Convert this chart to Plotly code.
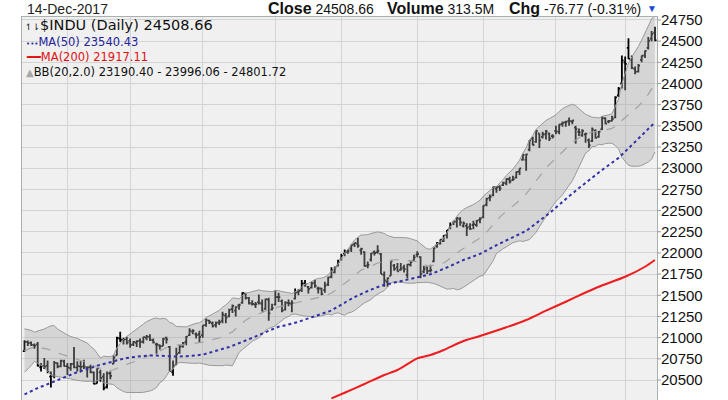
import pandas as pd
import plotly.graph_objects as go

# ---------------- calendar (NYSE trading days shown) ----------------
START, END = "2017-03-15", "2017-12-14"
HOLIDAYS = ["2017-04-14", "2017-05-29", "2017-07-04", "2017-09-04", "2017-11-23"]
dates = [d.strftime("%Y-%m-%d") for d in pd.bdate_range(START, END)
         if d.strftime("%Y-%m-%d") not in HOLIDAYS]

# ---------------- $INDU daily OHLC (Mar 15 - Dec 14, 2017) ----------------
opens = [
    20840, 20950, 20940, 20912, 20920, 20650, 20665, 20670, 20540, 20550, 20700, 20660, 20720,
    20665, 20640, 20690, 20650, 20660, 20660, 20650, 20650, 20590, 20460, 20590, 20540, 20420, 20580, 20690, 20790, 20990, 20970, 20980,
    20962, 20920, 20940, 20960, 20950, 21000, 21010, 20970, 20920, 20910, 20900, 21000, 20890, 20590, 20680, 20820, 20900, 20950, 21030, 21070, 21040, 21040,
    21030, 21150, 21200, 21170, 21150, 21180, 21200, 21260, 21250, 21340, 21320, 21380, 21410, 21520, 21470, 21400, 21390, 21420, 21400, 21340, 21450, 21330,
    21390, 21480, 21430, 21330, 21410, 21400, 21460, 21540, 21560, 21640, 21600, 21590, 21650, 21580, 21580, 21560, 21630, 21720, 21770, 21850,
    21920, 21990, 22010, 22050, 22100, 22110, 22030, 22010, 21850, 21920, 22010, 22010, 21990, 21740, 21660, 21730, 21850, 21830, 21800, 21830, 21740, 21860, 21910,
    21980, 21950, 21780, 21830, 21790, 21900, 22080, 22110, 22140, 22210, 22290, 22350, 22370, 22400, 22320, 22320, 22310, 22330, 22330, 22390,
    22420, 22570, 22650, 22680, 22760, 22780, 22800, 22820, 22870, 22860, 22890, 22960, 23100, 23100, 23220, 23350, 23310, 23410, 23370, 23400, 23410, 23380,
    23440, 23430, 23520, 23540, 23560, 23550, 23480, 23430, 23390, 23400, 23330, 23320, 23440, 23370, 23460, 23590, 23550, 23560, 23600, 23860, 24000,
    24250, 24420, 24280, 24170, 24140, 24280, 24330, 24420, 24530, 24600,
]
highs = [
    20970, 20965, 20955, 20930, 20950, 20700, 20760, 20730, 20600, 20725, 20710, 20740, 20740,
    20700, 20700, 20890, 20720, 20720, 20740, 20660, 20680, 20600, 20640, 20620, 20580, 20600, 20600, 20790, 21010, 21070, 21000, 21010,
    20990, 20960, 20970, 20990, 21010, 21030, 21040, 20990, 20940, 20920, 21000, 21010, 20900, 20730, 20880, 20920, 20950, 21020, 21110, 21100, 21060, 21080,
    21145, 21225, 21210, 21190, 21190, 21210, 21305, 21290, 21340, 21390, 21370, 21400, 21535, 21530, 21480, 21440, 21420, 21510, 21450, 21460, 21470, 21400,
    21560, 21530, 21450, 21430, 21450, 21440, 21580, 21570, 21680, 21680, 21610, 21660, 21680, 21600, 21590, 21660, 21720, 21830, 21840, 21920,
    21990, 22040, 22040, 22100, 22120, 22180, 22060, 22020, 21900, 22000, 22030, 22090, 22000, 21780, 21710, 21900, 21870, 21880, 21880, 21860, 21870, 21910, 21980,
    22020, 21960, 21850, 21840, 21860, 22060, 22130, 22160, 22210, 22270, 22360, 22380, 22420, 22420, 22370, 22350, 22350, 22380, 22390, 22420,
    22560, 22650, 22690, 22780, 22790, 22800, 22840, 22880, 22900, 22910, 22960, 23000, 23170, 23170, 23330, 23370, 23450, 23410, 23430, 23450, 23420, 23400,
    23500, 23520, 23550, 23560, 23600, 23570, 23500, 23470, 23460, 23420, 23350, 23480, 23460, 23440, 23610, 23600, 23570, 23620, 23850, 23960, 24330,
    24320, 24534, 24330, 24200, 24230, 24330, 24390, 24550, 24620, 24670,
]
lows = [
    20830, 20900, 20900, 20870, 20660, 20600, 20630, 20580, 20412, 20520, 20640, 20650, 20660,
    20560, 20610, 20640, 20600, 20590, 20630, 20530, 20580, 20450, 20460, 20480, 20380, 20400, 20510, 20690, 20790, 20950, 20920, 20920,
    20880, 20900, 20890, 20880, 20930, 20970, 20960, 20930, 20810, 20860, 20900, 20930, 20600, 20550, 20680, 20810, 20880, 20910, 21020, 21040, 20990, 20940,
    21000, 21130, 21160, 21120, 21120, 21150, 21170, 21170, 21240, 21290, 21250, 21330, 21400, 21450, 21390, 21380, 21350, 21390, 21310, 21330, 21200, 21320,
    21380, 21420, 21300, 21320, 21370, 21300, 21450, 21500, 21540, 21600, 21520, 21580, 21590, 21520, 21500, 21530, 21610, 21700, 21760, 21840,
    21910, 21960, 21990, 22010, 22070, 22060, 21980, 21840, 21820, 21900, 21970, 21990, 21750, 21600, 21600, 21730, 21790, 21780, 21790, 21770, 21700, 21840, 21900,
    21950, 21700, 21760, 21750, 21770, 21890, 22060, 22100, 22130, 22170, 22280, 22330, 22300, 22320, 22300, 22200, 22270, 22280, 22310, 22350,
    22410, 22550, 22610, 22670, 22710, 22730, 22790, 22800, 22820, 22850, 22880, 22920, 23090, 22970, 23200, 23270, 23300, 23240, 23350, 23340, 23320, 23350,
    23400, 23400, 23490, 23490, 23500, 23520, 23290, 23380, 23370, 23300, 23240, 23310, 23350, 23360, 23450, 23520, 23530, 23550, 23590, 23840, 23940,
    23920, 24290, 24170, 24110, 24130, 24250, 24300, 24400, 24500, 24500,
]
closes = [
    20950.10, 20934.55, 20914.62, 20905.86, 20668.01, 20661.30, 20656.58, 20596.72, 20550.98, 20701.50, 20659.32, 20728.49, 20663.22,
    20650.21, 20689.24, 20648.15, 20662.95, 20656.10, 20658.02, 20651.30, 20591.86, 20453.25, 20636.92, 20523.28, 20404.49, 20578.71, 20547.76, 20763.89, 20996.12, 20975.09, 20981.33, 20940.51,
    20913.46, 20949.89, 20957.90, 20951.47, 21006.94, 21012.42, 20975.78, 20943.11, 20919.42, 20896.61, 20981.94, 20979.75, 20606.93, 20663.02, 20804.84, 20894.83, 20937.91, 21012.28, 21082.95, 21080.28, 21029.47, 21008.65,
    21144.18, 21206.29, 21184.04, 21136.23, 21173.69, 21182.53, 21271.97, 21235.67, 21328.47, 21374.56, 21359.90, 21384.28, 21528.99, 21467.14, 21410.03, 21397.29, 21394.76, 21409.55, 21310.66, 21454.61, 21287.03, 21349.63,
    21479.27, 21478.17, 21320.04, 21414.34, 21408.52, 21409.07, 21532.14, 21553.09, 21637.74, 21629.72, 21574.73, 21640.75, 21611.78, 21580.07, 21513.17, 21613.43, 21711.01, 21796.55, 21830.31, 21891.12,
    21963.92, 22016.24, 22026.10, 22092.81, 22118.42, 22085.34, 22048.70, 21844.01, 21858.32, 21993.71, 21998.99, 22024.87, 21750.73, 21674.51, 21703.75, 21899.89, 21812.09, 21783.40, 21813.67, 21808.40, 21865.37, 21892.43, 21948.10,
    21987.56, 21753.31, 21807.64, 21784.78, 21797.79, 22057.37, 22118.86, 22158.18, 22203.48, 22268.34, 22331.35, 22370.80, 22412.59, 22359.23, 22349.59, 22296.09, 22284.32, 22340.71, 22381.20, 22405.09,
    22557.60, 22641.67, 22661.64, 22775.39, 22773.67, 22761.07, 22830.68, 22872.89, 22841.01, 22871.72, 22956.96, 22997.44, 23157.60, 23163.04, 23328.63, 23273.96, 23441.76, 23329.46, 23400.86, 23434.19, 23348.74, 23377.24,
    23435.01, 23516.26, 23539.19, 23548.42, 23557.23, 23563.36, 23461.94, 23422.21, 23439.70, 23409.47, 23271.28, 23458.36, 23358.24, 23430.33, 23590.83, 23526.18, 23557.99, 23580.78, 23836.71, 23940.68, 24272.35,
    24231.59, 24290.05, 24180.64, 24140.91, 24211.48, 24329.16, 24386.03, 24504.80, 24585.43, 24508.66,
]
# closes before the visible window (Jan 3 - Mar 14, 2017), needed for MA(50)/BB(20)
prior_closes = [
    19881.76, 19942.16, 19899.29, 19963.80, 19887.38, 19855.53, 19954.28, 19891.00, 19885.73, 19826.77,
    19804.72, 19732.40, 19827.25, 19799.85, 19912.71, 20068.51, 20100.91, 20093.78, 19971.13, 19864.09,
    19890.94, 19884.91, 20071.46, 20052.42, 20090.29, 20054.34, 20172.40, 20269.37, 20412.16, 20504.41,
    20611.86, 20619.77, 20624.05, 20743.00, 20775.60, 20810.32, 20821.76, 20837.44, 20812.24, 21115.55,
    21002.97, 21005.71, 20954.34, 20924.76, 20855.73, 20858.19, 20902.98, 20881.48, 20837.37,
]
# MA(200)
ma200_dates = ["2017-07-27", "2017-08-02", "2017-08-10", "2017-08-18", "2017-08-24", "2017-09-01",
               "2017-09-08", "2017-09-14", "2017-09-22", "2017-09-29", "2017-10-11", "2017-10-19",
               "2017-10-27", "2017-11-06", "2017-11-13", "2017-11-20", "2017-12-01", "2017-12-11",
               "2017-12-14"]
ma200_values = [20284, 20350, 20453, 20559, 20618, 20756, 20795, 20854, 20960, 21019, 21122, 21208,
                21318, 21424, 21515, 21601, 21719, 21837, 21917.11]

y_ticks = [20500, 20750, 21000, 21250, 21500, 21750, 22000, 22250, 22500, 22750, 23000,
           23250, 23500, 23750, 24000, 24250, 24500, 24750]

n = len(closes)
assert n == len(dates) == len(opens) == len(highs) == len(lows)

# ---------------- indicators ----------------
s = pd.Series(prior_closes + closes)
ma50 = s.rolling(50).mean().iloc[-n:].tolist()
mid = s.rolling(20).mean()
sd = s.rolling(20).std(ddof=0)
bb_up = (mid + 2 * sd).iloc[-n:].tolist()
bb_lo = (mid - 2 * sd).iloc[-n:].tolist()
bb_mid = mid.iloc[-n:].tolist()

month_starts = [d for i, d in enumerate(dates) if i > 0 and d[5:7] != dates[i - 1][5:7]]

fig = go.Figure()
fig.add_trace(go.Scatter(x=dates, y=bb_up, mode="lines",
                         line=dict(color="#999999", width=1), hoverinfo="skip"))
fig.add_trace(go.Scatter(x=dates, y=bb_lo, mode="lines", fill="tonexty",
                         fillcolor="rgba(165,165,165,0.36)",
                         line=dict(color="#999999", width=1), hoverinfo="skip"))
fig.add_trace(go.Scatter(x=dates, y=bb_mid, mode="lines",
                         line=dict(color="#a3a3a3", width=1.2, dash="dash"), hoverinfo="skip"))
fig.add_trace(go.Scatter(x=ma200_dates, y=ma200_values, mode="lines",
                         line=dict(color="#ee1c1c", width=2, shape="spline", smoothing=0.6),
                         hoverinfo="skip"))
fig.add_trace(go.Scatter(x=dates, y=ma50, mode="lines",
                         line=dict(color="#3030a8", width=2, dash="dot"), hoverinfo="skip"))
fig.add_trace(go.Ohlc(x=dates, open=opens, high=highs, low=lows, close=closes,
                      increasing=dict(line=dict(color="#000000", width=1.8)),
                      decreasing=dict(line=dict(color="#000000", width=1.8)),
                      tickwidth=0.5))

# plot area in pixels: x 22..657, y 17..400
PL, PR, PT, PB = 22, 657, 17, 400


def px(x, y):
    return (x - PL) / (PR - PL), (PB - y) / (PB - PT)


ann = []


def add_text(x, y, text, size, color="#111111", family="DejaVu Sans", anchor="left"):
    ax, ay = px(x, y)
    ann.append(dict(x=ax, y=ay, xref="paper", yref="paper", text=text, showarrow=False,
                    xanchor=anchor, yanchor="middle",
                    font=dict(size=size, color=color, family=family)))


HF = "Liberation Sans"
add_text(25, 8.5, "14-Dec-2017", 14, "#222222", HF)
add_text(266, 9, '<b style="font-size:16px">Close</b> 24508.66', 14, "#111111", HF)
add_text(385, 9, '<b style="font-size:16px">Volume</b> 313.5M', 14, "#111111", HF)
add_text(507, 9, '<b style="font-size:16px">Chg</b> -76.77 (-0.31%)', 14, "#111111", HF)
add_text(652, 9, "▼", 10, "#1d47d6", HF, anchor="center")

add_text(23, 25, '<span style="font-size:9px">↿⇂</span>$INDU (Daily) 24508.66', 14.5, "#111111")
add_text(24, 42, '<span style="font-size:7px">•••</span>MA(50) 23540.43', 11.5, "#23239a")
add_text(24, 57, '━━MA(200) 21917.11', 11.5, "#e01010")
add_text(24, 72, '<span style="color:#a8a8a8;font-size:10px">▲</span>BB(20,2.0) 23190.40 - 23996.06 - 24801.72',
         11.5, "#111111")

# small outside tick marks on the right-hand price axis
tick_len = 4 / (PR - PL)
shapes = [dict(type="line", xref="paper", yref="y", x0=1, x1=1 + tick_len, y0=v, y1=v,
               line=dict(color="#9a9a9a", width=1)) for v in y_ticks]

fig.update_layout(
    width=728, height=400,
    margin=dict(l=PL, r=728 - PR, t=PT, b=0),
    paper_bgcolor="#ffffff", plot_bgcolor="#f0f0f0",
    showlegend=False,
    annotations=ann,
    shapes=shapes,
    xaxis=dict(type="category", categoryorder="array", categoryarray=dates,
               range=[-0.76, n - 1 + 0.64],
               tickmode="array", tickvals=month_starts, showticklabels=False, ticks="",
               showgrid=True, gridcolor="#d4d4d4", gridwidth=1,
               showline=True, linecolor="#a9b0b0", mirror=True, zeroline=False,
               rangeslider=dict(visible=False), fixedrange=True),
    yaxis=dict(side="right", range=[20264, 24785],
               tickmode="array", tickvals=y_ticks, ticktext=[str(v) for v in y_ticks],
               ticks="",
               tickfont=dict(family=HF, size=15, color="#111111"),
               showgrid=True, gridcolor="#d4d4d4", gridwidth=1,
               showline=True, linecolor="#a9b0b0", mirror=True, zeroline=False,
               fixedrange=True),
)

fig.write_html("out.html")
